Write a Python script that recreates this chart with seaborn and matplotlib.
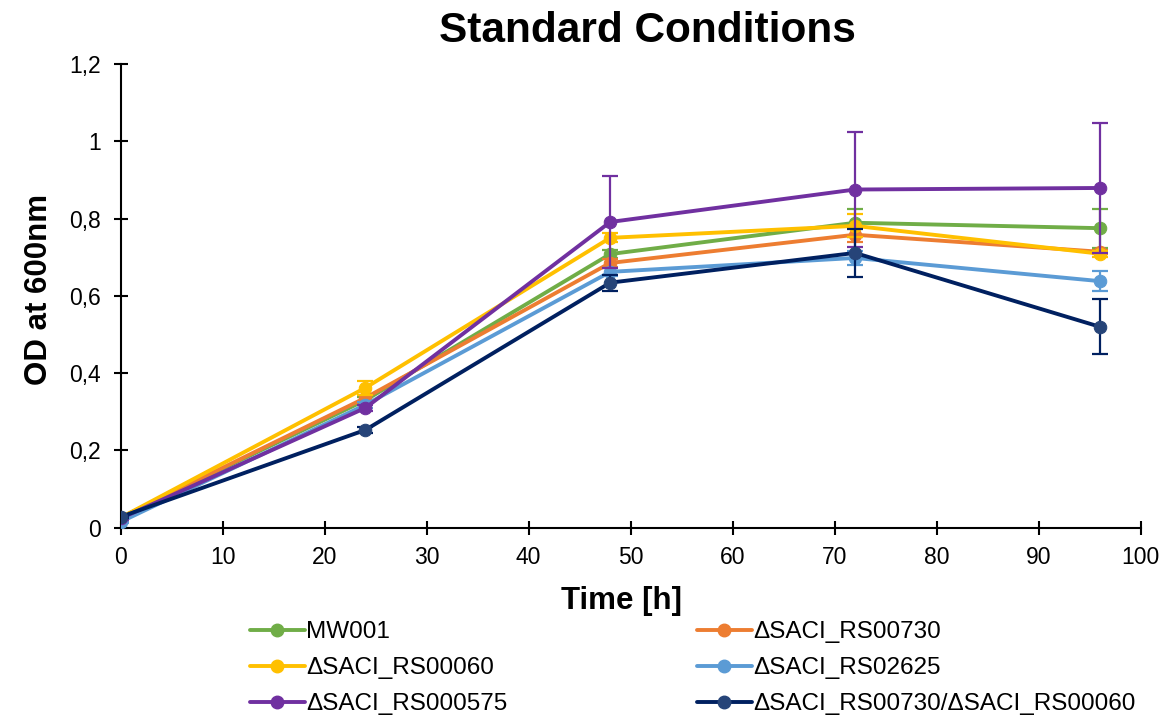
import matplotlib
matplotlib.use("Agg")
import matplotlib.pyplot as plt
from matplotlib.lines import Line2D
import seaborn as sns
import pandas as pd
import numpy as np

time_h = [0, 24, 48, 72, 96]
strains = ["MW001", "ΔSACI_RS00730", "ΔSACI_RS00060", "ΔSACI_RS02625",
           "ΔSACI_RS000575", "ΔSACI_RS00730/ΔSACI_RS00060"]
od_mw001 = [0.026, 0.330, 0.708, 0.789, 0.775]
od_rs00730 = [0.026, 0.336, 0.685, 0.758, 0.714]
od_rs00060 = [0.026, 0.362, 0.750, 0.781, 0.709]
od_rs02625 = [0.015, 0.318, 0.662, 0.698, 0.638]
od_rs000575 = [0.024, 0.310, 0.791, 0.875, 0.879]
od_double = [0.028, 0.253, 0.634, 0.711, 0.520]
err_mw001 = [0.003, 0.008, 0.010, 0.036, 0.050]
err_rs00730 = [0.003, 0.008, 0.010, 0.018, 0.005]
err_rs00060 = [0.003, 0.018, 0.012, 0.030, 0.008]
err_rs02625 = [0.003, 0.008, 0.010, 0.018, 0.026]
err_rs000575 = [0.003, 0.008, 0.120, 0.148, 0.168]
err_double = [0.003, 0.008, 0.021, 0.062, 0.071]
y_ticks = [0, 0.2, 0.4, 0.6, 0.8, 1.0, 1.2]
y_tick_labels = ["0", "0,2", "0,4", "0,6", "0,8", "1", "1,2"]
x_ticks = [0, 10, 20, 30, 40, 50, 60, 70, 80, 90, 100]

values = [od_mw001, od_rs00730, od_rs00060, od_rs02625, od_rs000575, od_double]
errors = [err_mw001, err_rs00730, err_rs00060, err_rs02625, err_rs000575, err_double]
line_colors = ["#70AD47", "#ED7D31", "#FFC000", "#5B9BD5", "#7030A0", "#002060"]
marker_colors = ["#70AD47", "#ED7D31", "#FFC000", "#5B9BD5", "#7030A0", "#264478"]

rows = []
for s, vals in zip(strains, values):
    for t, v in zip(time_h, vals):
        rows.append({"Time": t, "OD": v, "Strain": s})
df = pd.DataFrame(rows)

sns.set_theme(style="white")
plt.rcParams["font.family"] = ["Liberation Sans", "DejaVu Sans"]
plt.rcParams["text.color"] = "black"
plt.rcParams["axes.labelcolor"] = "black"
plt.rcParams["xtick.color"] = "black"
plt.rcParams["ytick.color"] = "black"

fig = plt.figure(figsize=(11.71, 7.18), dpi=100)
ax = fig.add_axes([0.103, 0.265, 0.871, 0.646])

for i, (s, vals, errs) in enumerate(zip(strains, values, errors)):
    sub = df[df["Strain"] == s]
    ax.errorbar(sub["Time"], sub["OD"], yerr=errs, fmt="none", ecolor=line_colors[i],
                elinewidth=1.6, capsize=6, capthick=1.6, zorder=2 + i * 2)
    sns.lineplot(data=sub, x="Time", y="OD", ax=ax, color=line_colors[i], lw=2.8,
                 marker="o", markersize=9, markerfacecolor=marker_colors[i],
                 markeredgecolor=marker_colors[i], legend=False, zorder=3 + i * 2)

ax.set_xlim(0, 100)
ax.set_ylim(0, 1.2)
ax.set_xticks(x_ticks)
ax.set_xticklabels([str(x) for x in x_ticks])
ax.set_yticks(y_ticks)
ax.set_yticklabels(y_tick_labels)
ax.tick_params(axis="both", direction="inout", length=10, width=1.5, labelsize=16.5,
               colors="black", left=True, bottom=True)
ax.tick_params(axis="y", pad=9)
ax.tick_params(axis="x", pad=8)
for side in ["top", "right"]:
    ax.spines[side].set_visible(False)
for side in ["left", "bottom"]:
    ax.spines[side].set_color("black")
    ax.spines[side].set_linewidth(1.5)
ax.set_xlabel("Time [h]", fontsize=22.5, fontweight="bold")
ax.set_ylabel("OD at 600nm", fontsize=22.5, fontweight="bold")
ax.xaxis.set_label_coords(0.491, -0.125)
ax.yaxis.set_label_coords(-0.065, 0.513)
fig.text(0.553, 0.957, "Standard Conditions", fontsize=30.5, fontweight="bold",
         ha="center", va="center")

order = [0, 2, 4, 1, 3, 5]
handles = [Line2D([0], [0], color=line_colors[i], lw=2.8, marker="o", markersize=9,
                  markerfacecolor=marker_colors[i], markeredgecolor=marker_colors[i])
           for i in order]
labels = [strains[i] for i in order]
fig.legend(handles, labels, ncol=2, loc="upper left", bbox_to_anchor=(0.205, 0.148),
           frameon=False, fontsize=17.5, handlelength=2.26, handletextpad=0.05,
           columnspacing=7.8, labelspacing=0.57, borderaxespad=0)

fig.savefig("out.png", dpi=100, facecolor="white")
